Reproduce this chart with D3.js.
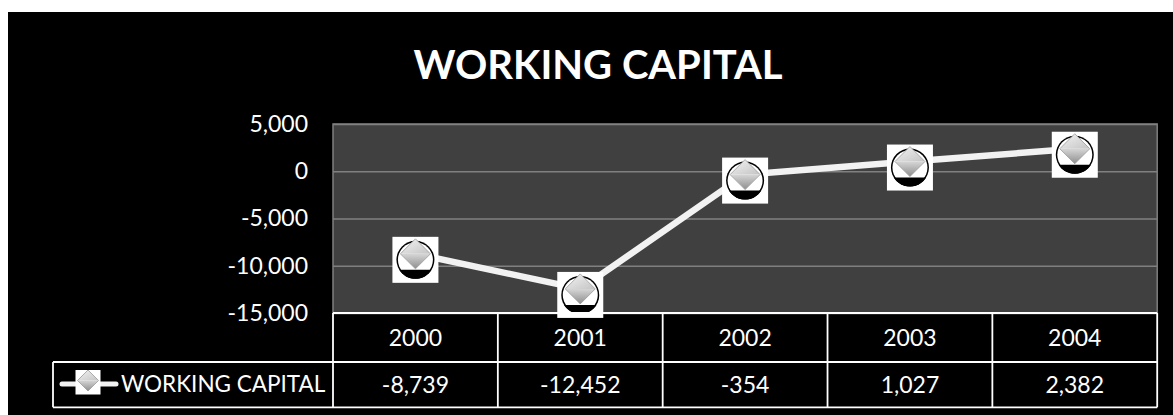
<!DOCTYPE html>
<html>
<head>
<meta charset="utf-8">
<script src="https://cdn.jsdelivr.net/npm/d3@7"></script>
<style>
  body { margin: 0; background: #fff; }
  svg { display: block; font-family: Lato, "Open Sans", sans-serif; }
</style>
</head>
<body>
<div id="chart"></div>
<script>
// values
var years = ["2000", "2001", "2002", "2003", "2004"];
var workingCapital = [-8739, -12452, -354, 1027, 2382];
var yTicks = [5000, 0, -5000, -10000, -15000];
var seriesName = "WORKING CAPITAL";
var chartTitle = "WORKING CAPITAL";

var W = 1173, H = 415;
var plot = { left: 333, right: 1157.2, top: 124, bottom: 313 };
var rowMid = 362, rowBottom = 407.3, legendLeft = 53;

// hyphen minus, like the original
var fmt = d3.formatLocale({ decimal: ".", thousands: ",", grouping: [3], currency: ["$", ""], minus: "-" }).format(",");

var svg = d3.select("#chart").append("svg")
  .attr("width", W)
  .attr("height", H);

var defs = svg.append("defs");
var gTop = defs.append("linearGradient").attr("id", "dTop")
  .attr("x1", 0).attr("y1", 0).attr("x2", 1).attr("y2", 1);
gTop.append("stop").attr("offset", "0%").attr("stop-color", "#f4f4f4");
gTop.append("stop").attr("offset", "100%").attr("stop-color", "#c4c4c4");
var gBot = defs.append("linearGradient").attr("id", "dBot")
  .attr("x1", 0).attr("y1", 0).attr("x2", 0).attr("y2", 1);
gBot.append("stop").attr("offset", "0%").attr("stop-color", "#d6d6d6");
gBot.append("stop").attr("offset", "100%").attr("stop-color", "#8e8e8e");

// black chart area
svg.append("rect").attr("x", 8).attr("y", 12).attr("width", W - 8).attr("height", H - 12).attr("fill", "#000");

svg.append("text")
  .attr("x", 598).attr("y", 79)
  .attr("text-anchor", "middle")
  .attr("fill", "#fff")
  .style("font-size", "40px")
  .style("font-weight", "bold")
  .text(chartTitle);

var x = d3.scaleBand().domain(years).range([plot.left, plot.right]).padding(0);
var y = d3.scaleLinear().domain([-15000, 5000]).range([plot.bottom, plot.top]);

// plot background
svg.append("rect")
  .attr("x", plot.left).attr("y", plot.top)
  .attr("width", plot.right - plot.left).attr("height", plot.bottom - plot.top)
  .attr("fill", "#404040")
  .attr("stroke", "#7f7f7f").attr("stroke-width", 1.5);

var yAxis = d3.axisLeft(y)
  .tickValues(yTicks)
  .tickFormat(fmt)
  .tickSize(-(plot.right - plot.left))
  .tickPadding(25);

var gy = svg.append("g")
  .attr("transform", "translate(" + plot.left + ",0)")
  .call(yAxis);
gy.select(".domain").remove();
gy.selectAll(".tick line").attr("stroke", "#808080").attr("stroke-width", 1.5);
gy.selectAll(".tick text")
  .attr("fill", "#fff")
  .style("font-size", "23px")
  .style("font-family", "Lato, 'Open Sans', sans-serif");

// the line
var data = years.map(function (yr, i) { return { year: yr, value: workingCapital[i] }; });
var line = d3.line()
  .x(function (d) { return x(d.year) + x.bandwidth() / 2; })
  .y(function (d) { return y(d.value); });

svg.append("path")
  .datum(data)
  .attr("d", line)
  .attr("fill", "none")
  .attr("stroke", "#f2f2f2")
  .attr("stroke-width", 6.5)
  .attr("stroke-linejoin", "round");

function diamond(g, s) {
  g.append("path").attr("d", "M" + (-s) + ",0L0," + (-s) + "L" + s + ",0Z").attr("fill", "url(#dTop)");
  g.append("path").attr("d", "M" + (-s) + ",0L0," + s + "L" + s + ",0Z").attr("fill", "url(#dBot)");
  g.append("path").attr("d", "M" + (-s) + ",0L0," + (-s) + "L" + s + ",0L0," + s + "Z")
    .attr("fill", "none").attr("stroke", "#9a9a9a").attr("stroke-width", 0.8);
}

// markers
var marks = svg.selectAll(".mark")
  .data(data)
  .enter().append("g")
  .attr("class", "mark")
  .attr("transform", function (d) {
    return "translate(" + (x(d.year) + x.bandwidth() / 2) + "," + y(d.value) + ")";
  });

marks.each(function () {
  var g = d3.select(this);
  g.append("rect").attr("x", -23).attr("y", -17).attr("width", 46).attr("height", 46).attr("fill", "#fff");
  g.append("circle").attr("cx", 0).attr("cy", 6).attr("r", 19).attr("fill", "#000");
  g.append("circle").attr("cx", 0).attr("cy", 6).attr("r", 17.5).attr("fill", "#fff");
  var hw = Math.sqrt(19 * 19 - 10 * 10);
  g.append("path")
    .attr("d", "M" + (-hw) + ",16A19,19 0 0 0 " + hw + ",16Z")
    .attr("fill", "#000");
  diamond(g, 15);
});

// data table
var table = svg.append("g")
  .attr("stroke", "#fff")
  .attr("stroke-width", 1.8)
  .attr("fill", "none");

table.append("line").attr("x1", plot.left).attr("x2", plot.right).attr("y1", plot.bottom).attr("y2", plot.bottom);
table.append("line").attr("x1", legendLeft).attr("x2", plot.right).attr("y1", rowMid).attr("y2", rowMid);
table.append("line").attr("x1", legendLeft).attr("x2", plot.right).attr("y1", rowBottom).attr("y2", rowBottom);
table.append("line").attr("x1", legendLeft).attr("x2", legendLeft).attr("y1", rowMid).attr("y2", rowBottom);

var edges = years.map(function (yr) { return x(yr); }).concat([plot.right]);
table.selectAll(".vline")
  .data(edges)
  .enter().append("line")
  .attr("x1", function (d) { return d; })
  .attr("x2", function (d) { return d; })
  .attr("y1", plot.bottom)
  .attr("y2", rowBottom);

svg.selectAll(".yearLabel")
  .data(years)
  .enter().append("text")
  .attr("x", function (d) { return x(d) + x.bandwidth() / 2; })
  .attr("y", 338)
  .attr("dy", "0.35em")
  .attr("text-anchor", "middle")
  .attr("fill", "#fff")
  .style("font-size", "23px")
  .text(function (d) { return d; });

svg.selectAll(".valLabel")
  .data(data)
  .enter().append("text")
  .attr("x", function (d) { return x(d.year) + x.bandwidth() / 2; })
  .attr("y", 385)
  .attr("dy", "0.35em")
  .attr("text-anchor", "middle")
  .attr("fill", "#fff")
  .style("font-size", "23px")
  .text(function (d) { return fmt(d.value); });

// legend key inside the table
var key = svg.append("g");
key.append("line")
  .attr("x1", 62).attr("x2", 116).attr("y1", 384).attr("y2", 384)
  .attr("stroke", "#f2f2f2").attr("stroke-width", 5).attr("stroke-linecap", "round");
key.append("rect").attr("x", 75.5).attr("y", 370).attr("width", 25).attr("height", 24.5).attr("fill", "#fff");
var kd = key.append("g").attr("transform", "translate(88,380.5)");
diamond(kd, 10.5);

key.append("text")
  .attr("x", 121).attr("y", 384)
  .attr("dy", "0.35em")
  .attr("fill", "#fff")
  .style("font-size", "22.5px")
  .text(seriesName);
</script>
</body>
</html>
